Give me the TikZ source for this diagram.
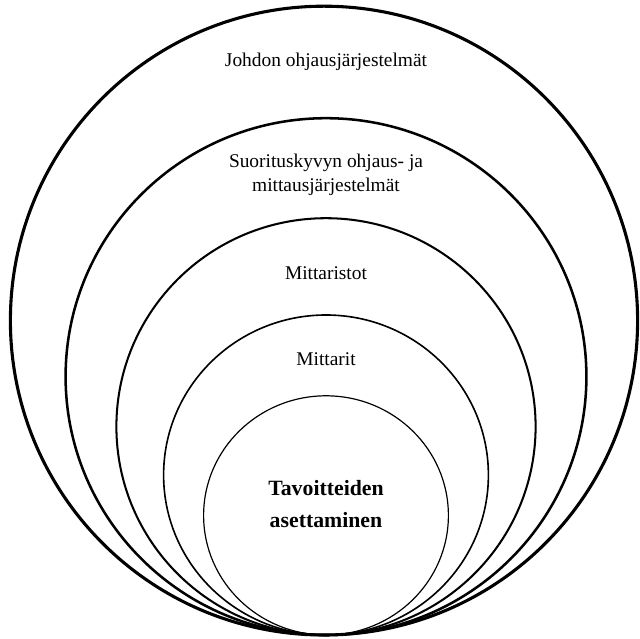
\documentclass[tikz,border=0pt]{standalone}
\usepackage{fontspec}
\setmainfont{Liberation Serif}

\tikzset{
  ring/.style={draw, black},
  caption/.style={align=center, font=\fontsize{13.8}{17}\selectfont},
  goal/.style={align=center, font=\fontsize{15.5}{22.5}\selectfont\bfseries},
}

\begin{document}
\begin{tikzpicture}
    \useasboundingbox (-8.15,-0.075) rectangle (7.85,15.875);

    \coordinate (base) at (0,0);

    \draw[ring, line width=2.2pt] (-0.05,7.86) ellipse [x radius=7.84, y radius=7.86];
    \draw[ring, line width=1.8pt] (0,6.46) ellipse [x radius=6.51, y radius=6.46];
    \draw[ring, line width=1.45pt] (0,5.21) ellipse [x radius=5.24, y radius=5.21];
    \draw[ring, line width=1.15pt] (0,4.00) ellipse [x radius=4.06, y radius=4.00];
    \draw[ring, line width=0.85pt] (0,2.99) ellipse [x radius=3.06, y radius=2.99];

    \node[caption] (johdon) at (0,14.33) {Johdon ohjausjärjestelmät};
    \node[caption] (suoritus) at (0,11.5) {Suorituskyvyn ohjaus- ja\\mittausjärjestelmät};
    \node[caption] (mittaristot) at (0,9.05) {Mittaristot};
    \node[caption] (mittarit) at (0,6.9) {Mittarit};
    \node[goal] (tavoitteet) at (0,3.28) {Tavoitteiden\\asettaminen};
\end{tikzpicture}
\end{document}
